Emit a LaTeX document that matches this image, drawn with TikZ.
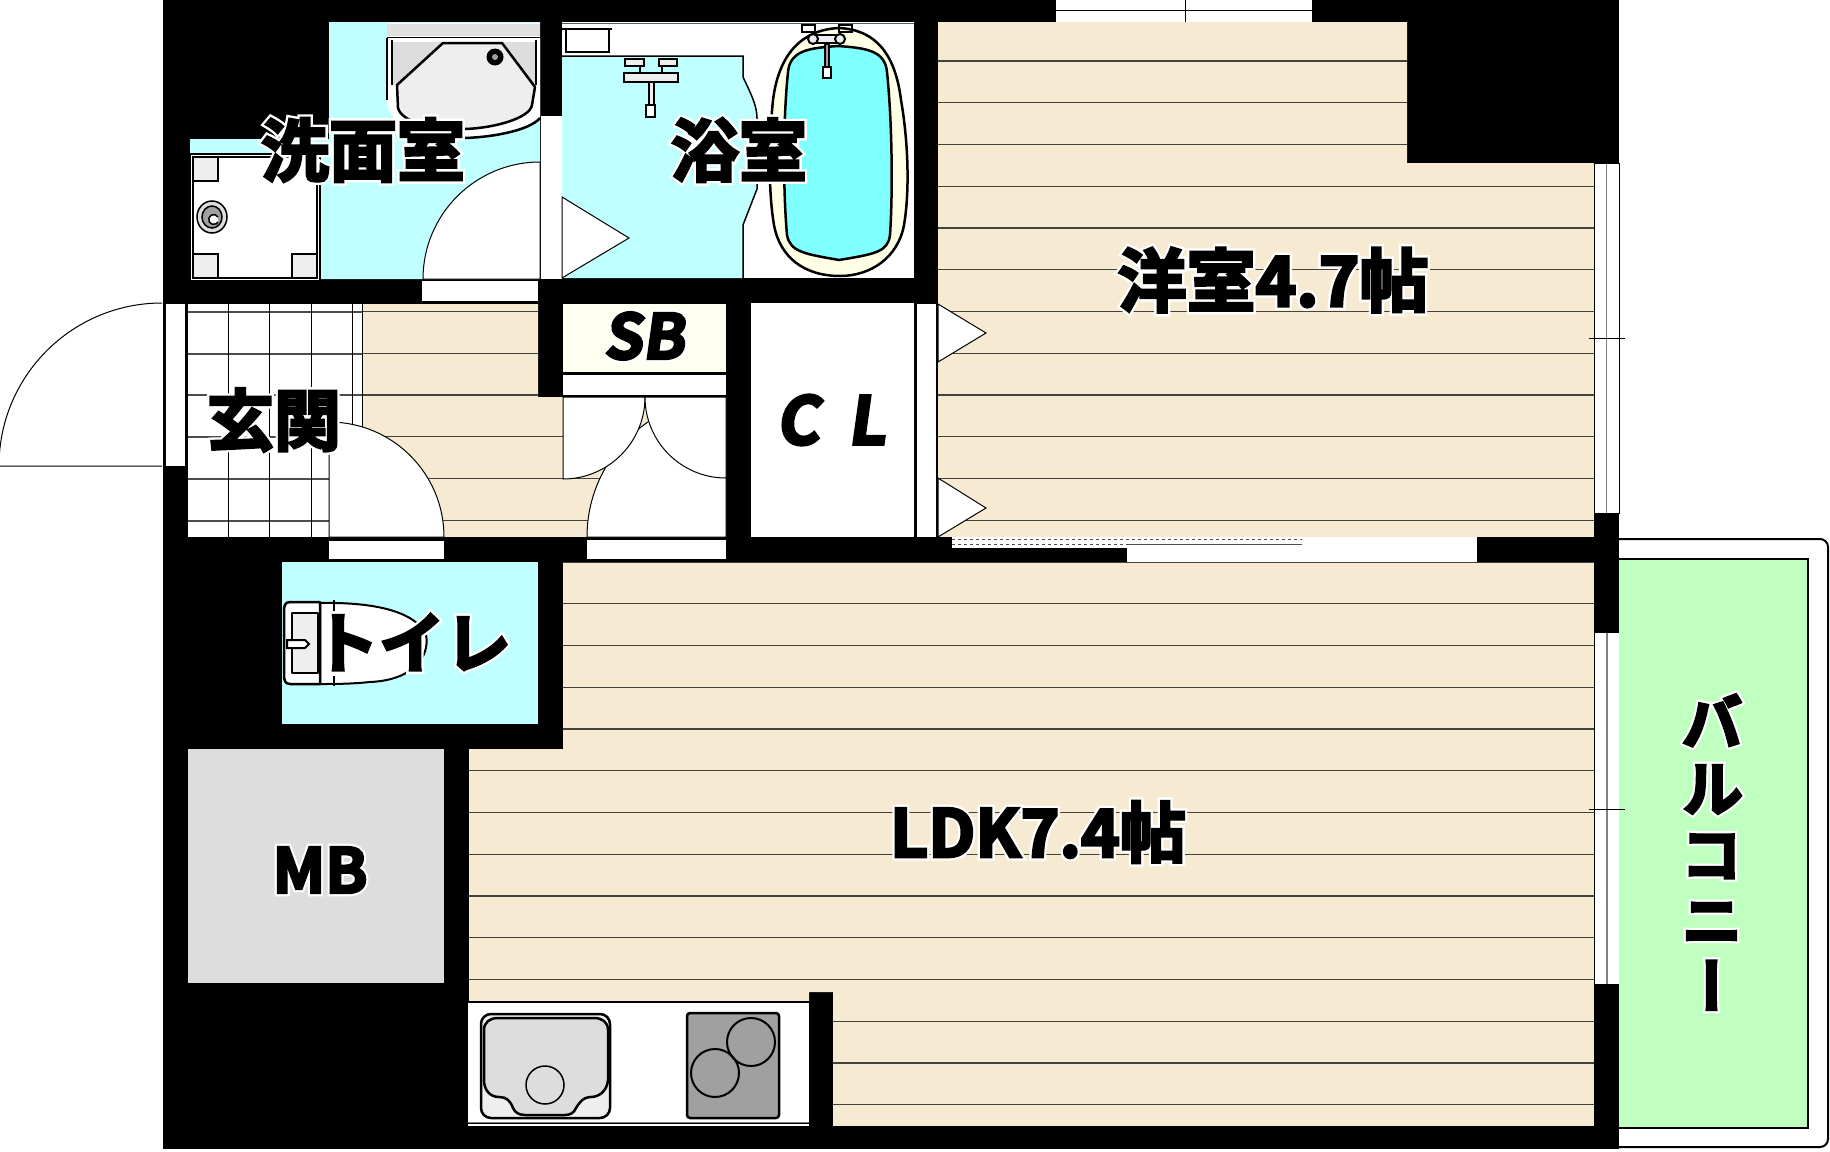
\documentclass[tikz,border=0pt]{standalone}
\usepackage{fontspec}
\usetikzlibrary{positioning}

\newfontfamily\labelfont[UprightFont=* Bold, FakeBold=4]{Noto Sans CJK JP}
\newfontfamily\halofont[UprightFont=* Bold, FakeBold=11]{Noto Sans CJK JP}
\newfontfamily\slantfont[UprightFont=* Bold, FakeBold=4, FakeSlant=0.14]{Noto Sans CJK JP}
\newfontfamily\slanthalofont[UprightFont=* Bold, FakeBold=11, FakeSlant=0.14]{Noto Sans CJK JP}
\newfontfamily\vertfont[UprightFont=* Bold, FakeBold=4, RawFeature={+vert}]{Noto Sans CJK JP}
\newfontfamily\verthalofont[UprightFont=* Bold, FakeBold=11, RawFeature={+vert}]{Noto Sans CJK JP}
\newcommand{\halo}[1]{\rlap{\halofont\color{white}#1}{\labelfont #1}}
\newcommand{\shalo}[1]{\rlap{\slanthalofont\color{white}#1}{\slantfont #1}}
\newcommand{\vhalo}[1]{\rlap{\verthalofont\color{white}#1}{\vertfont #1}}
\newcommand{\floorlines}{\foreach \k in {0,...,25} \draw[floorline] (0, {61+41.75*\k}) -- (1830, {61+41.75*\k});}

\definecolor{floorcream}{HTML}{F6EBD2}
\definecolor{wetblue}{HTML}{BFFFFF}
\definecolor{tubblue}{HTML}{80FFFF}
\definecolor{tubrim}{HTML}{FFFFE6}
\definecolor{balconygreen}{HTML}{BFFFBF}
\definecolor{mbgray}{HTML}{DDDDDD}
\definecolor{fixgray}{HTML}{EEEEEE}
\definecolor{stovegray}{HTML}{A0A0A0}
\definecolor{sbcream}{HTML}{FFFFF0}

\begin{document}
\begin{tikzpicture}[
    x=1pt, y=-1pt,
    floorline/.style={line width=1.2pt, black!72!floorcream},
    thin line/.style={line width=1pt, black},
    door/.style={fill=white, draw=black, line width=1pt},
    fixture/.style={draw=black, line width=2.5pt, line join=round},
    roomlabel/.style={inner sep=0pt, text=black}
]
    \useasboundingbox (0, 0) rectangle (1830, 1151);

    % Building
    \fill[black] (163, 0) rectangle (1619, 1149);

    % Entrance door swing
    \draw[door] (162, 303) arc[start angle=90, end angle=180, radius=163pt] -- (162, 466);

    % Top window
    \fill[white] (1056, 0) rectangle (1312, 22);
    \draw[thin line] (1056, 10) -- (1312, 10);
    \draw[thin line] (1056, 22) -- (1312, 22);
    \draw[thin line] (1185, 0) -- (1185, 28);

    % Washroom
    \fill[wetblue] (329, 22) -- (540, 22) -- (540, 279) -- (190, 279) -- (190, 139) -- (329, 139) -- cycle;
    \fill[white] (387, 23) rectangle (540, 38);
    \fill[mbgray!90!white] (387, 24) rectangle (540, 36);
    \draw[line width=3pt] (387, 38) -- (540, 38);
    \fill[white] (387, 38) -- (540, 38) -- (540, 116) .. controls (530, 128) and (495, 136) .. (465, 137) .. controls (425, 135) and (388, 130) .. (387, 100) -- cycle;
    \draw[line width=2pt] (387, 38) -- (387, 100);
    \draw[line width=2.5pt] (540, 118) .. controls (530, 130) and (495, 137) .. (465, 138);
    \fill[mbgray] (392, 42) rectangle (536, 85);
    \draw[line width=2.5pt] (392, 40) -- (392, 85);
    \draw[line width=2.5pt] (536, 40) -- (536, 85);
    \draw[fixture, fill=fixgray] (443, 43) -- (502, 43) -- (535, 87) -- (532, 105) .. controls (530, 118) and (495, 128) .. (465, 129) .. controls (430, 129) and (402, 122) .. (398, 108) -- (397, 85) -- cycle;
    \fill[black] (495, 57) circle[radius=8.5pt];
    \fill[stovegray] (495, 57) circle[radius=3pt];

    % Washing machine pan
    \draw[fill=white, line width=1.5pt] (190, 154) rectangle (320, 281);
    \draw[fill=white, line width=2pt] (193, 157) rectangle (317, 278);
    \foreach \cx/\cy in {193/157, 193/254, 292/254}
        \draw[fill=fixgray, line width=1.5pt] (\cx, \cy) rectangle ++(25, 24);
    \draw[fill=mbgray, line width=1.5pt] (212, 217) ellipse[x radius=15pt, y radius=16pt];
    \draw[fill=stovegray, line width=1.5pt] (212, 217) ellipse[x radius=10pt, y radius=11pt];
    \draw[fill=white, line width=1.5pt] (218, 217) arc[start angle=30, end angle=330, radius=5pt];

    % Washroom door
    \draw[door] (540, 162) arc[start angle=90, end angle=180, radius=117pt] -- (540, 279) -- cycle;
    \fill[white] (422, 281) rectangle (538, 301);
    \fill[white] (541, 116) rectangle (562, 279);

    % Bathroom
    \fill[white] (562, 22) rectangle (914, 278);
    \draw[line width=1pt, black!60!wetblue] (562, 23) -- (914, 23);
    \fill[wetblue] (562, 57) -- (743, 57) -- (743, 77) .. controls (750, 92) and (757, 105) .. (757, 118) -- (757, 189) -- (743, 225) -- (743, 278) -- (562, 278) -- cycle;
    \draw[line width=1.5pt] (562, 56) -- (743, 56) -- (743, 77) .. controls (750, 92) and (757, 105) .. (757, 118) -- (757, 189) -- (743, 225) -- (743, 278);
    \draw[line width=1.5pt] (566, 29) rectangle (609, 52);
    \draw[line width=1.5pt] (562, 29) -- (612, 29);
    \draw[door] (562, 197) -- (629, 238) -- (562, 278) -- cycle;

    % Bath faucet on the wall
    \draw[line width=1.5pt, fill=fixgray] (625, 59) rectangle (644, 66);
    \draw[line width=1.5pt, fill=fixgray] (659, 59) rectangle (677, 66);
    \draw[line width=1.5pt] (640, 66) -- (640, 73);
    \draw[line width=1.5pt] (662, 66) -- (662, 73);
    \draw[line width=1.5pt, fill=fixgray] (624, 73) rectangle (678, 82);
    \draw[line width=1.5pt, fill=fixgray] (649, 82) rectangle (654, 105);
    \draw[line width=1.5pt, fill=white] (646, 105) rectangle (655, 117);

    % Bathtub
    \draw[fixture, fill=tubrim] (839, 28) .. controls (880, 30) and (896, 60) .. (901, 100) .. controls (908, 140) and (910, 190) .. (904, 225) .. controls (898, 258) and (870, 276) .. (840, 276) .. controls (805, 276) and (780, 258) .. (774, 225) .. controls (768, 190) and (769, 140) .. (773, 100) .. controls (778, 60) and (797, 30) .. (839, 28) -- cycle;
    \draw[fixture, fill=tubblue] (838, 46) .. controls (865, 48) and (885, 50) .. (887, 72) .. controls (892, 120) and (893, 190) .. (890, 235) .. controls (888, 252) and (875, 254) .. (839, 260) .. controls (805, 254) and (790, 252) .. (787, 235) .. controls (783, 190) and (783, 120) .. (788, 72) .. controls (790, 50) and (810, 48) .. (838, 46) -- cycle;
    \draw[line width=2pt] (802, 25) rectangle (815, 32);
    \draw[line width=2pt] (839, 25) rectangle (852, 32);
    \draw[line width=2pt, fill=fixgray] (813, 35) rectangle (840, 43);
    \draw[line width=2pt, fill=fixgray] (813, 39) circle[radius=5pt];
    \draw[line width=2pt, fill=fixgray] (840, 39) circle[radius=5pt];
    \draw[line width=1.5pt, fill=stovegray] (825, 44) rectangle (829, 67);
    \draw[line width=1.5pt, fill=white] (823, 67) rectangle (831, 78);

    % Entrance tiles
    \fill[white] (188, 304) rectangle (362, 537);
    \foreach \ty in {312, 354, 395, 437, 479, 521}
        \draw[floorline, black!70] (188, \ty) -- (362, \ty);
    \foreach \tx in {228, 269, 311, 352, 363}
        \draw[thin line] (\tx, 304) -- (\tx, 537);

    % Entrance window
    \fill[white] (166, 304) rectangle (185, 466);

    % Hall
    \begin{scope}
        \clip (363, 304) -- (538, 304) -- (538, 397) -- (726, 397) -- (726, 537) -- (363, 537) -- cycle;
        \fill[floorcream] (363, 304) rectangle (726, 537);
        \floorlines
    \end{scope}
    \draw[door] (329, 422) arc[start angle=90, end angle=0, radius=115pt] -- (329, 537) -- cycle;
    \fill[white] (329, 541) rectangle (444, 559);

    % Closet doors
    \draw[door] (726, 398) arc[start angle=90, end angle=180, radius=139pt] -- (726, 537) -- cycle;
    \fill[white] (587, 540) rectangle (726, 559);
    \draw[door] (563, 397) -- (645, 397) arc[start angle=0, end angle=-90, radius=82pt] -- cycle;
    \draw[door] (726, 397) -- (645, 397) arc[start angle=180, end angle=270, radius=81pt] -- cycle;

    % SB
    \fill[sbcream] (563, 304) rectangle (726, 372);
    \fill[white] (563, 375) rectangle (726, 395);

    % CL
    \fill[white] (751, 303) rectangle (914, 537);
    \fill[white] (917, 304) rectangle (936, 537);

    % Western room
    \begin{scope}
        \clip (938, 22) -- (1407, 22) -- (1407, 163) -- (1594, 163) -- (1594, 537) -- (938, 537) -- cycle;
        \fill[floorcream] (938, 22) rectangle (1594, 537);
        \floorlines
    \end{scope}
    \draw[door] (938, 304) -- (986, 333) -- (938, 362) -- cycle;
    \draw[door] (938, 478) -- (986, 508) -- (938, 537) -- cycle;

    % East window of the room
    \fill[white] (1594, 163) rectangle (1619, 513);
    \draw[line width=1pt, black!50] (1606, 163) -- (1606, 513);
    \draw[thin line] (1594, 163) rectangle (1619, 513);
    \draw[thin line] (1589, 338) -- (1625, 338);

    % Sliding door
    \fill[white] (1127, 537) rectangle (1477, 562);
    \fill[white] (952, 537) rectangle (1127, 548);
    \draw[line width=0.8pt, black!70, dashed] (952, 539) -- (1302, 539);
    \draw[line width=0.8pt, black!70, dashed] (952, 544) -- (1127, 544);
    \draw[line width=0.8pt, black!70] (1127, 544) -- (1302, 544);

    % Toilet room
    \fill[wetblue] (282, 562) rectangle (538, 724);
    \draw[fixture, fill=white, line width=2pt] (320, 603) .. controls (370, 602) and (415, 610) .. (426, 635) .. controls (430, 655) and (415, 680) .. (370, 682) .. controls (350, 684) and (335, 684) .. (320, 684) -- cycle;
    \draw[fixture, fill=white] (290, 602) -- (320, 602) -- (320, 684) -- (290, 684) .. controls (285, 684) and (284, 680) .. (284, 675) -- (284, 611) .. controls (284, 606) and (285, 602) .. (290, 602) -- cycle;
    \draw[fixture, fill=fixgray] (292, 613) rectangle (318, 673);
    \draw[line width=2pt, fill=white] (287, 640) -- (305, 640) -- (309, 644) -- (305, 648) -- (287, 648) -- cycle;
    \draw[line width=1.5pt] (334, 600) -- (334, 611);
    \draw[line width=1.5pt] (334, 676) -- (334, 686);

    % MB
    \fill[mbgray] (188, 749) rectangle (444, 983);

    % LDK
    \begin{scope}
        \clip (563, 562) -- (1594, 562) -- (1594, 1126) -- (833, 1126) -- (833, 992) -- (809, 992) -- (809, 1002) -- (469, 1002) -- (469, 749) -- (563, 749) -- cycle;
        \fill[floorcream] (469, 562) rectangle (1594, 1126);
        \floorlines
    \end{scope}

    % Kitchen
    \fill[white] (468, 1003) rectangle (809, 1122);
    \draw[line width=2pt] (468, 1002) -- (809, 1002);
    \draw[line width=1pt, black!50] (468, 1122) -- (809, 1122);
    \fill[white] (468, 1124) rectangle (809, 1126);
    \draw[fixture, fill=fixgray, rounded corners=10pt] (481, 1014) rectangle (610, 1118);
    \draw[fixture, fill=mbgray] (484, 1030) .. controls (484, 1022) and (490, 1018) .. (498, 1018) -- (594, 1018) .. controls (602, 1018) and (608, 1022) .. (608, 1030) -- (608, 1080) .. controls (607, 1092) and (598, 1097) .. (591, 1097) .. controls (582, 1097) and (578, 1105) .. (576, 1108) .. controls (574, 1113) and (570, 1115) .. (565, 1115) -- (525, 1115) .. controls (518, 1115) and (515, 1112) .. (513, 1108) .. controls (510, 1100) and (506, 1097) .. (499, 1097) .. controls (490, 1097) and (484, 1090) .. (484, 1080) -- cycle;
    \draw[line width=1.5pt] (545, 1085) circle[radius=19pt];
    \draw[fixture, fill=stovegray, rounded corners=3pt] (687, 1013) rectangle (779, 1118);
    \draw[line width=2pt] (751, 1042) circle[radius=24pt];
    \draw[line width=2pt] (715, 1073) circle[radius=24pt];

    % Balcony
    \draw[fill=white, line width=2pt, rounded corners=8pt] (1610, 539) -- (1828, 539) -- (1828, 1147) -- (1610, 1147);
    \draw[fill=balconygreen, line width=2pt] (1619, 559) -- (1808, 559) -- (1808, 1128) -- (1619, 1128);
    \fill[black] (1594, 513) rectangle (1619, 633);
    \fill[black] (1594, 984) rectangle (1619, 1149);

    % LDK window
    \fill[white] (1594, 633) rectangle (1619, 984);
    \draw[line width=1.5pt, black!50] (1607, 633) -- (1607, 984);
    \draw[thin line] (1594, 633) -- (1594, 984);
    \draw[thin line] (1589, 809) -- (1625, 809);

    % Room names
    \node[roomlabel, font=\fontsize{68}{68}\selectfont] (washroom) at (363, 150) {\halo{洗面室}};
    \node[roomlabel, font=\fontsize{68}{68}\selectfont] (bathroom) at (739, 150) {\halo{浴室}};
    \node[roomlabel, font=\fontsize{69}{69}\selectfont] (western) at (1273, 280) {\halo{洋室4.7帖}};
    \node[roomlabel, font=\fontsize{62}{62}\selectfont] (sb) at (644, 336) {\shalo{SB}};
    \node[roomlabel, font=\fontsize{66}{66}\selectfont] (cl) at (831, 420) {\shalo{C\hspace{0.2em} L}};
    \node[roomlabel, font=\fontsize{67}{67}\selectfont] (entrance) at (274, 420) {\halo{玄関}};
    \node[roomlabel, font=\fontsize{66}{66}\selectfont] (toilet) at (412, 642) {\halo{トイレ}};
    \node[roomlabel, font=\fontsize{62}{62}\selectfont] (mb) at (320, 870) {\halo{MB}};
    \node[roomlabel, font=\fontsize{66}{66}\selectfont] (ldk) at (1038, 832) {\halo{LDK7.4帖}};
    \node[roomlabel, font=\fontsize{62}{66}\selectfont, align=center] (balcony) at (1712, 852) {\vhalo{バ}\\\vhalo{ル}\\\vhalo{コ}\\\vhalo{ニ}\\\vhalo{ー}};

\end{tikzpicture}
\end{document}
